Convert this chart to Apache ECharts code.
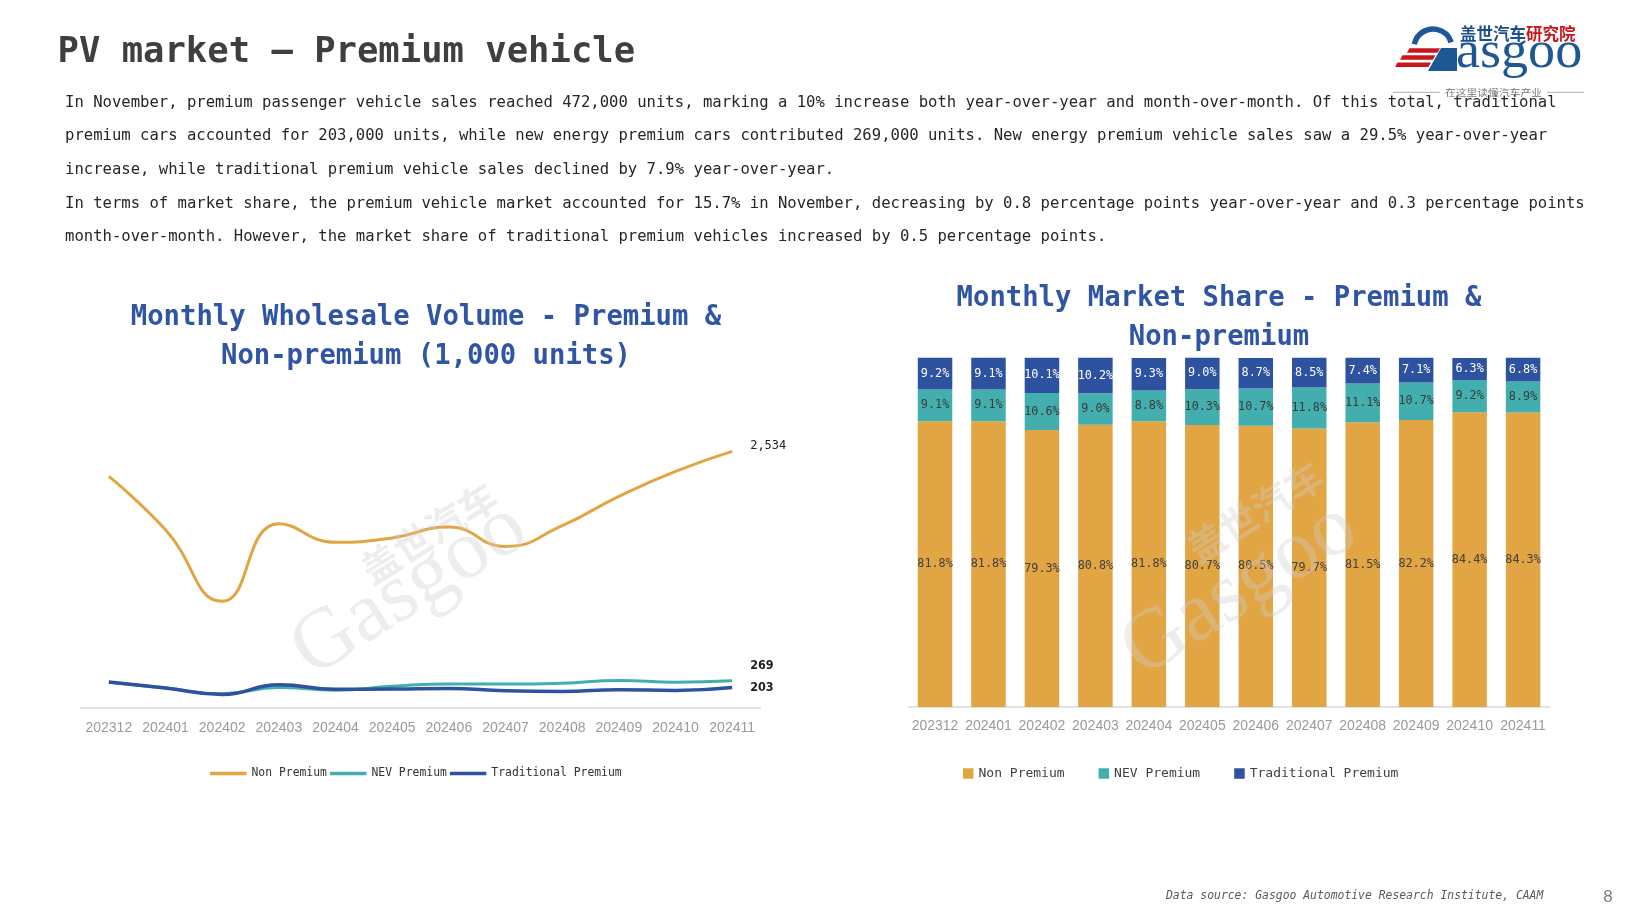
<!DOCTYPE html>
<html><head><meta charset="utf-8">
<script src="https://cdn.jsdelivr.net/npm/echarts@6/dist/echarts.min.js"></script>
<style>html,body{margin:0;padding:0;background:#fff;}#c{width:1640px;height:922px;}</style>
</head><body><div id="c"></div>
<script>
// ---------------- data ----------------
const months = ['202312','202401','202402','202403','202404','202405','202406','202407','202408','202409','202410','202411'];
const seriesNames = ['Non Premium','NEV Premium','Traditional Premium'];
// monthly wholesale volume (1,000 units)
const nonPremiumVolume = [2287, 1760, 1053, 1820, 1636, 1679, 1787, 1596, 1800, 2090, 2337, 2534];
const nevPremiumVolume = [254, 197, 141, 203, 176, 214, 238, 236, 245, 272, 255, 269];
const traditionalPremiumVolume = [257, 197, 134, 230, 186, 187, 193, 170, 163, 181, 174, 203];
// monthly market share (%)
const nonPremiumShare = [81.8, 81.8, 79.3, 80.8, 81.8, 80.7, 80.5, 79.7, 81.5, 82.2, 84.4, 84.3];
const nevPremiumShare = [9.1, 9.1, 10.6, 9.0, 8.8, 10.3, 10.7, 11.8, 11.1, 10.7, 9.2, 8.9];
const traditionalPremiumShare = [9.2, 9.1, 10.1, 10.2, 9.3, 9.0, 8.7, 8.5, 7.4, 7.1, 6.3, 6.8];
// texts
const pageTitle = 'PV market – Premium vehicle';
const paragraphLines = [
  'In November, premium passenger vehicle sales reached 472,000 units, marking a 10% increase both year-over-year and month-over-month. Of this total, traditional',
  'premium cars accounted for 203,000 units, while new energy premium cars contributed 269,000 units. New energy premium vehicle sales saw a 29.5% year-over-year',
  'increase, while traditional premium vehicle sales declined by 7.9% year-over-year.',
  'In terms of market share, the premium vehicle market accounted for 15.7% in November, decreasing by 0.8 percentage points year-over-year and 0.3 percentage points',
  'month-over-month. However, the market share of traditional premium vehicles increased by 0.5 percentage points.'
];
const leftTitleLines = ['Monthly Wholesale Volume - Premium &', 'Non-premium (1,000 units)'];
const rightTitleLines = ['Monthly Market Share - Premium &', 'Non-premium'];
const sourceText = 'Data source: Gasgoo Automotive Research Institute, CAAM';
const pageNumber = '8';

// ---------------- styles ----------------
const ORANGE = '#E1A544', TEAL = '#42AFAE', BLUE = '#2D53A0';
const LOGO_BLUE = '#1D5796', LOGO_RED = '#C8161D';
const MONO = "'DejaVu Sans Mono', monospace";
const TITLE_BLUE = '#2F55A3';

function T(x, y, text, size, charW, o) {
  o = o || {};
  const sx = o.scaleX || (charW ? charW / (0.602 * size) : 1);
  const align = o.align || 'left';
  return {
    type: 'text', x: x, y: y, scaleX: sx, rotation: o.rotation || 0, z: o.z || 50, silent: true,
    style: {
      text: text, fontFamily: o.family || MONO, fontSize: size,
      fontWeight: o.weight || 'normal', fontStyle: o.style || 'normal',
      fill: o.color || '#333', textAlign: align, align: align,
      textVerticalAlign: 'middle', verticalAlign: 'middle'
    }
  };
}

const elements = [];
elements.push(T(57.5, 53, pageTitle, 35, 577.5 / 27, {weight: 'bold', color: '#3f3f3f'}));
const paraY = [102.5, 136.2, 169.9, 203.6, 237.3];
paragraphLines.forEach((l, i) => elements.push(T(65, paraY[i], l, 16, 9.38, {color: '#262626'})));
elements.push(T(426, 318, leftTitleLines[0], 28, 16.4, {align: 'center', weight: 'bold', color: TITLE_BLUE}));
elements.push(T(426, 356.5, leftTitleLines[1], 28, 16.4, {align: 'center', weight: 'bold', color: TITLE_BLUE}));
elements.push(T(1219, 298.5, rightTitleLines[0], 28, 16.4, {align: 'center', weight: 'bold', color: TITLE_BLUE}));
elements.push(T(1219, 337.5, rightTitleLines[1], 28, 16.4, {align: 'center', weight: 'bold', color: TITLE_BLUE}));
elements.push(T(1166, 896, sourceText, 11.5, 6.86, {style: 'italic', color: '#595959'}));
elements.push(T(1608, 897, pageNumber, 17, null, {family: "'Liberation Sans', sans-serif", color: '#7f7f7f', align: 'center'}));

// logo
elements.push({type: 'arc', silent: true, z: 50, shape: {cx: 1433, cy: 48, r: 19, startAngle: Math.PI + 0.2, endAngle: Math.PI * 2 - 0.3},
  style: {stroke: LOGO_BLUE, lineWidth: 5.5, fill: null}});
elements.push({type: 'polygon', silent: true, z: 50, shape: {points: [[1441, 48], [1457, 48], [1457, 71], [1428, 71]]}, style: {fill: LOGO_BLUE}});
[[48.3, 52.8, 1407, 1440], [55.3, 59.8, 1400, 1435.5], [62.5, 67, 1395, 1431]].forEach(s => {
  elements.push({type: 'polygon', silent: true, z: 51,
    shape: {points: [[s[2] + 2.5, s[0]], [s[3], s[0]], [s[3] - 2.5, s[1]], [s[2], s[1]]]}, style: {fill: LOGO_RED}});
});
elements.push(T(1456, 53.5, 'asgoo', 52, null, {family: "'Liberation Serif', serif", color: LOGO_BLUE, scaleX: 1.04}));
elements.push(T(1460, 33.5, '盖世汽车', 16.5, null, {family: "'Noto Sans CJK SC', sans-serif", weight: 'bold', color: '#1F4E8C'}));
elements.push(T(1526, 33.5, '研究院', 16.5, null, {family: "'Noto Sans CJK SC', sans-serif", weight: 'bold', color: LOGO_RED}));
elements.push({type: 'line', silent: true, z: 50, shape: {x1: 1393, y1: 92.3, x2: 1440, y2: 92.3}, style: {stroke: '#999', lineWidth: 0.8}});
elements.push({type: 'line', silent: true, z: 50, shape: {x1: 1547, y1: 92.3, x2: 1584, y2: 92.3}, style: {stroke: '#999', lineWidth: 0.8}});
elements.push(T(1493.5, 92.3, '在这里读懂汽车产业', 9, null, {family: "'Noto Sans CJK SC', sans-serif", color: '#777', align: 'center', scaleX: 1.2}));

// watermarks
const WM = 'rgba(205,205,205,0.36)';
[[410, 590, 429, 533], [1240, 590, 1255, 512]].forEach(w => {
  elements.push(T(w[0], w[1], 'Gasgoo', 85, null, {family: "'Liberation Serif', serif", color: WM, align: 'center', rotation: 0.56, z: 100}));
  elements.push(T(w[2], w[3], '盖世汽车', 38, null, {family: "'Noto Sans CJK SC', sans-serif", weight: 'bold', color: WM, align: 'center', rotation: 0.56, z: 100}));
});

// ---------------- chart ----------------
const chart = echarts.init(document.getElementById('c'), null, {renderer: 'canvas'});
const axisLabelStyle = {color: '#9a9a9a', fontSize: 14, fontFamily: "'Liberation Sans', sans-serif", interval: 0};
const fmtThousands = v => Number(v).toLocaleString('en-US');
const endLabel = (dy, fam, size, weight) => ({
  show: true, distance: 18, offset: [0, dy], color: '#222', fontFamily: fam, fontSize: size, fontWeight: weight,
  formatter: p => fmtThousands(p.value)
});
const barLabel = (color) => ({
  show: true, position: 'inside', color: color, fontFamily: MONO, fontSize: 11.8,
  formatter: p => p.value.toFixed(1) + '%'
});

chart.setOption({
  animation: false,
  backgroundColor: '#ffffff',
  color: [ORANGE, TEAL, BLUE],
  grid: [
    {left: 80.5, width: 680, top: 404.2, height: 303.8},
    {left: 908.3, width: 641.5, top: 357.7, height: 349.3}
  ],
  xAxis: [
    {gridIndex: 0, type: 'category', data: months, boundaryGap: true, axisTick: {show: false},
     axisLine: {lineStyle: {color: '#d9d9d9', width: 1.5}}, axisLabel: Object.assign({margin: 13}, axisLabelStyle)},
    {gridIndex: 1, type: 'category', data: months, boundaryGap: true, axisTick: {show: false},
     axisLine: {lineStyle: {color: '#d9d9d9', width: 1.5}}, axisLabel: Object.assign({margin: 12}, axisLabelStyle)}
  ],
  yAxis: [
    {gridIndex: 0, type: 'value', min: 0, max: 3000, show: false, splitLine: {show: false}},
    {gridIndex: 1, type: 'value', min: 0, max: 100, show: false, splitLine: {show: false}}
  ],
  legend: [
    {data: seriesNames, left: 205, top: 763, icon: 'roundRect', itemWidth: 36.5, itemHeight: 3.5, itemGap: 3,
     itemStyle: {borderWidth: 0},
     textStyle: {fontFamily: MONO, fontSize: 11.4, color: '#333'}},
    {data: seriesNames, left: 958, top: 762, icon: 'rect', itemWidth: 10.5, itemHeight: 10.5, itemGap: 34,
     itemStyle: {borderWidth: 0},
     textStyle: {fontFamily: MONO, fontSize: 13, color: '#404040'}}
  ],
  graphic: {elements: elements},
  series: [
    {name: seriesNames[0], type: 'line', xAxisIndex: 0, yAxisIndex: 0, data: nonPremiumVolume, smooth: true, symbol: 'none',
     lineStyle: {width: 3, color: ORANGE}, itemStyle: {color: ORANGE},
     endLabel: endLabel(-6, MONO, 12, 'normal')},
    {name: seriesNames[1], type: 'line', xAxisIndex: 0, yAxisIndex: 0, data: nevPremiumVolume, smooth: true, symbol: 'none',
     lineStyle: {width: 3, color: TEAL}, itemStyle: {color: TEAL},
     endLabel: endLabel(-15, "'DejaVu Sans Condensed', sans-serif", 12.5, 'bold')},
    {name: seriesNames[2], type: 'line', xAxisIndex: 0, yAxisIndex: 0, data: traditionalPremiumVolume, smooth: true, symbol: 'none',
     lineStyle: {width: 3.5, color: BLUE}, itemStyle: {color: BLUE},
     endLabel: endLabel(0, "'DejaVu Sans Condensed', sans-serif", 12.5, 'bold')},
    {name: seriesNames[0], type: 'bar', xAxisIndex: 1, yAxisIndex: 1, stack: 'share', data: nonPremiumShare, barWidth: 34.5,
     itemStyle: {color: ORANGE}, label: barLabel('#404040')},
    {name: seriesNames[1], type: 'bar', xAxisIndex: 1, yAxisIndex: 1, stack: 'share', data: nevPremiumShare, barWidth: 34.5,
     itemStyle: {color: TEAL}, label: barLabel('#3a3a3a')},
    {name: seriesNames[2], type: 'bar', xAxisIndex: 1, yAxisIndex: 1, stack: 'share', data: traditionalPremiumShare, barWidth: 34.5,
     itemStyle: {color: BLUE}, label: barLabel('#ffffff')}
  ]
});
</script>
</body></html>
